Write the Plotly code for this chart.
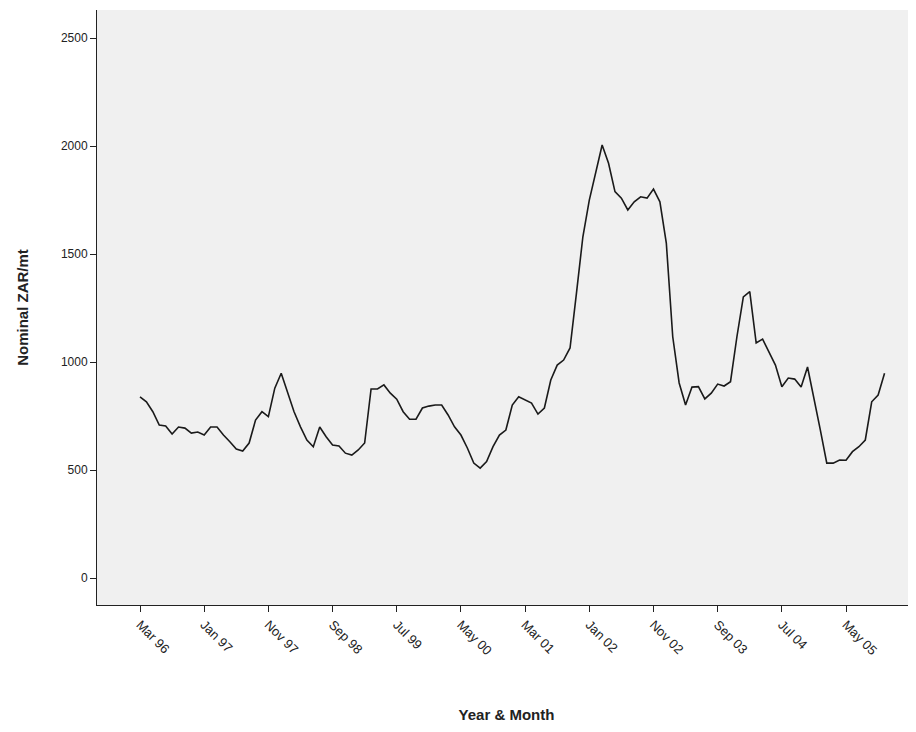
import plotly.graph_objects as go

# monthly prices, Mar 96 .. Nov 05
prices = [
    839, 816, 770, 708, 704, 667, 699, 694, 671, 676,
    662, 699, 699, 662, 631, 597, 588, 625, 731, 770,
    747, 879, 948, 856, 770, 700, 639, 608, 699, 654,
    616, 611, 578, 569, 593, 625, 875, 875, 894, 856,
    828, 770, 735, 735, 787, 796, 801, 801, 755, 700,
    662, 602, 532, 509, 539, 608, 662, 685, 801, 839,
    825, 810, 759, 787, 917, 986, 1009, 1065, 1319, 1580,
    1750, 1875, 2005, 1920, 1789, 1759, 1704, 1742, 1765, 1759,
    1801, 1742, 1551, 1117, 903, 801, 884, 886, 829, 856,
    898, 889, 909, 1117, 1302, 1326, 1088, 1106, 1048, 986,
    886, 926, 921, 884, 977, 839, 685, 532, 532, 546,
    545, 585, 608, 639, 816, 847, 948,
]
months = list(range(len(prices)))
tick_labels = ["Mar 96", "Jan 97", "Nov 97", "Sep 98", "Jul 99", "May 00",
               "Mar 01", "Jan 02", "Nov 02", "Sep 03", "Jul 04", "May 05"]
tick_pos = [i * 10 for i in range(len(tick_labels))]

fig = go.Figure()
fig.add_trace(go.Scatter(x=months, y=prices, mode="lines",
                         line=dict(color="#1a1a1a", width=1.6), showlegend=False))

fig.update_layout(
    width=908, height=724,
    margin=dict(l=89, r=0, t=2, b=127),
    paper_bgcolor="white", plot_bgcolor="#f0f0f0",
    font=dict(family="Liberation Sans, Arial, sans-serif", color="#222"),
    xaxis=dict(
        range=[-6.7, 120.9], tickvals=tick_pos, ticktext=tick_labels,
        tickangle=45, ticks="outside", ticklen=6, tickcolor="#222",
        showgrid=False, zeroline=False, showline=True, linecolor="#222",
        tickfont=dict(size=13),
        title=dict(text="<b>Year & Month</b>", font=dict(size=15), standoff=52),
    ),
    yaxis=dict(
        range=[-125, 2630], tickvals=[0, 500, 1000, 1500, 2000, 2500],
        ticks="outside", ticklen=6, tickcolor="#222",
        showgrid=False, zeroline=False, showline=True, linecolor="#222",
        tickfont=dict(size=12),
        title=dict(text="<b>Nominal ZAR/mt</b>", font=dict(size=15), standoff=28),
    ),
)
fig.write_html("out.html")
